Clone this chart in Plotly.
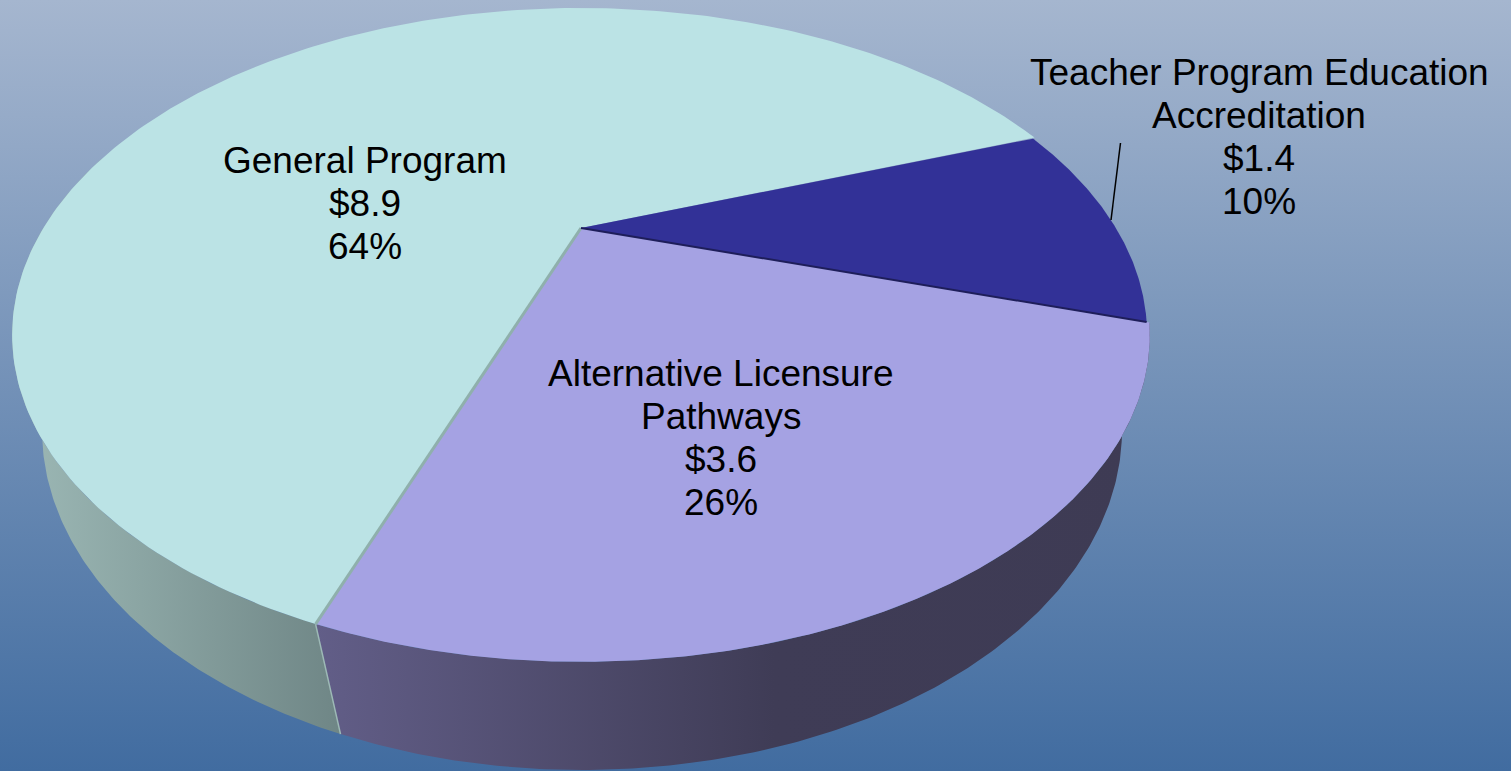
import numpy as np
import plotly.graph_objects as go

# --- data (clockwise order of the slices) ---
category_lines = [["General Program"], ["Teacher Program Education", "Accreditation"], ["Alternative Licensure", "Pathways"]]
amounts = [8.9, 1.44, 3.6]
amount_labels = ["$8.9", "$1.4", "$3.6"]
percent_labels = ["64%", "10%", "26%"]

# --- style ---
top_colors = ["#BBE3E5", "#323197", "#A5A2E3"]
slice_inset = [1.0, 0.995, 1.0]
W, H = 1511, 771
BG_TOP, BG_BOTTOM = "#A5B6CF", "#416CA0"
START_DEG = 200.0   # clockwise from the far side
CX, APEX_Y, R, K, A = 581.0, 228.0, 537.6, 0.327, -217.4
TOP_ELL = (581.0, 335.0, 568.0, 327.0)
BOTTOM_ELL = (582.0, 430.0, 540.0, 340.0)
BOTTOM_TWIST = -1.3
label_first_line = [(365, 160), (1259, 72), (721, 373)]
LINE_STEP = 43


def project(theta_deg):
    t = np.radians(theta_deg)
    u, v = np.sin(t), np.cos(t)
    d = 1 + K * v
    return CX + R * u / d, (APEX_Y + A * v) / d


def project_bottom(theta_deg):
    x, y = project(theta_deg)
    alpha = np.arctan2((y - TOP_ELL[1]) / TOP_ELL[3], (x - TOP_ELL[0]) / TOP_ELL[2]) + np.radians(BOTTOM_TWIST)
    return BOTTOM_ELL[0] + BOTTOM_ELL[2] * np.cos(alpha), BOTTOM_ELL[1] + BOTTOM_ELL[3] * np.sin(alpha)


total = sum(amounts)
spans = [a / total * 360 for a in amounts]
starts = np.r_[START_DEG, START_DEG + np.cumsum(spans)[:-1]]

fig = go.Figure()

# page background gradient
fig.add_trace(go.Scatter(
    x=[0, W, W, 0, 0], y=[0, 0, H, H, 0], mode="lines", line=dict(width=0),
    fill="toself", hoverinfo="skip",
    fillgradient=dict(type="vertical", colorscale=[[0, BG_BOTTOM], [1, BG_TOP]]),
))

# outer walls: general program (left) and alternative licensure (front)
walls = [
    (starts[0], 285, [[0, "#9DB9B6"], [1, "#6F8686"]]),
    (starts[2], starts[2] + spans[2], [[0, "#625E88"], [0.55, "#3F3C56"], [1, "#3E3B54"]]),
]
for a0, a1, scale in walls:
    th = np.linspace(a0, a1, 200)
    xt, yt = project(th)
    xb, yb = project_bottom(th)
    fig.add_trace(go.Scatter(
        x=np.r_[xt, xb[::-1], xt[0]], y=np.r_[yt, yb[::-1], yt[0]],
        mode="lines", line=dict(width=0), fill="toself", hoverinfo="skip",
        fillgradient=dict(type="horizontal", colorscale=scale),
    ))

# light seam on the front wall between slices
sx0, sy0 = project(starts[0])
sx1, sy1 = project_bottom(starts[0])
fig.add_trace(go.Scatter(x=[sx0, sx1], y=[sy0, sy1], mode="lines", hoverinfo="skip",
                         line=dict(color="#9DB9B6", width=1.5)))

# top faces
apex = (CX, APEX_Y)
for i in range(3):
    th = np.linspace(starts[i], starts[i] + spans[i], 240)
    x, y = project(th)
    x = apex[0] + (x - apex[0]) * slice_inset[i]
    y = apex[1] + (y - apex[1]) * slice_inset[i]
    fig.add_trace(go.Scatter(
        x=np.r_[apex[0], x, apex[0]], y=np.r_[apex[1], y, apex[1]],
        mode="lines", line=dict(width=0), fill="toself",
        fillcolor=top_colors[i], hoverinfo="skip",
    ))

# slice edges
ex, ey = project(starts[0])
fig.add_trace(go.Scatter(x=[apex[0], ex], y=[apex[1], ey], mode="lines", hoverinfo="skip",
                         line=dict(color="#8FB0AC", width=3)))
ex, ey = project(starts[2])
ex = apex[0] + (ex - apex[0]) * slice_inset[1]
ey = apex[1] + (ey - apex[1]) * slice_inset[1]
fig.add_trace(go.Scatter(x=[apex[0], ex], y=[apex[1], ey], mode="lines", hoverinfo="skip",
                         line=dict(color="#1E1E5A", width=2)))

# leader line
fig.add_shape(type="line", x0=1120.5, y0=143, x1=1111, y1=220, line=dict(color="black", width=1.5))

# labels, one annotation per line so the line spacing follows the reference
for lines, amt, pct, (lx, ly) in zip(category_lines, amount_labels, percent_labels, label_first_line):
    for n, text in enumerate(lines + [amt, pct]):
        fig.add_annotation(
            x=lx, y=ly + n * LINE_STEP, yanchor="middle", xanchor="center", showarrow=False,
            text=text,
            font=dict(family="Liberation Sans, Arial, sans-serif", size=37, color="black"),
        )

fig.update_layout(
    width=W, height=H, margin=dict(l=0, r=0, t=0, b=0), showlegend=False,
    paper_bgcolor=BG_BOTTOM, plot_bgcolor="rgba(0,0,0,0)",
    xaxis=dict(range=[0, W], visible=False, fixedrange=True),
    yaxis=dict(range=[H, 0], visible=False, fixedrange=True),
)
fig.write_html("out.html", config={"displayModeBar": False},
               post_script="document.body.style.margin='0';document.body.style.overflow='hidden';")
